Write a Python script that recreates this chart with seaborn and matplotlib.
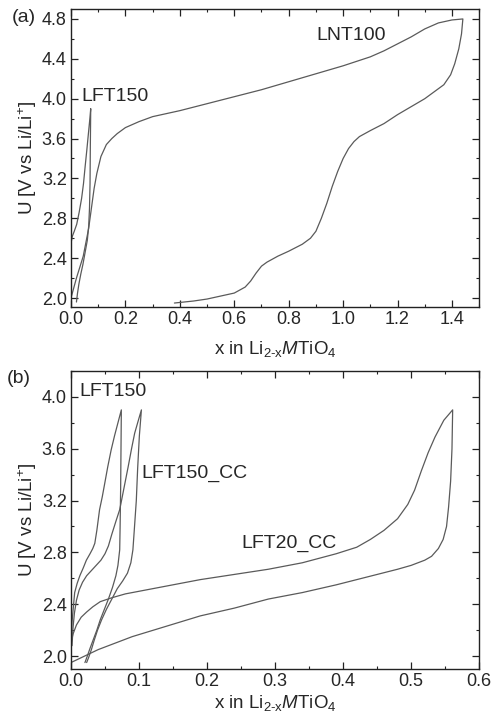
import numpy as np
import pandas as pd
import matplotlib
matplotlib.use("Agg")
import matplotlib.pyplot as plt
from matplotlib.ticker import MultipleLocator, FormatStrFormatter
import seaborn as sns

# panel (a): first cycle, charge then discharge
lnt100_x = [0.0, 0.02, 0.045, 0.065, 0.076, 0.085, 0.095, 0.11, 0.13, 0.15, 0.17, 0.2, 0.25, 0.3,
            0.35, 0.4, 0.5, 0.6, 0.7, 0.8, 0.9, 1.0, 1.1, 1.15, 1.2, 1.25, 1.3, 1.35, 1.4, 1.44,
            1.435, 1.425, 1.41, 1.395, 1.37, 1.3, 1.25, 1.2, 1.15, 1.1, 1.06, 1.04, 1.02, 1.0,
            0.98, 0.96, 0.94, 0.92, 0.9, 0.88, 0.85, 0.8, 0.76, 0.72, 0.7, 0.68, 0.66, 0.64,
            0.62, 0.6, 0.55, 0.5, 0.45, 0.38]
lnt100_u = [2.0, 2.2, 2.42, 2.7, 2.92, 3.1, 3.25, 3.42, 3.54, 3.6, 3.65, 3.71, 3.77, 3.82,
            3.85, 3.88, 3.95, 4.02, 4.09, 4.17, 4.25, 4.33, 4.42, 4.48, 4.55, 4.62, 4.7, 4.76, 4.79, 4.8,
            4.65, 4.5, 4.35, 4.24, 4.14, 4.0, 3.92, 3.84, 3.75, 3.68, 3.62, 3.57, 3.5, 3.4,
            3.27, 3.12, 2.95, 2.8, 2.67, 2.6, 2.54, 2.47, 2.42, 2.36, 2.32, 2.25, 2.17, 2.11,
            2.08, 2.05, 2.02, 1.99, 1.97, 1.95]

lft150a_x = [0.0, 0.0, 0.005, 0.012, 0.021, 0.03, 0.039, 0.046, 0.052, 0.058, 0.064, 0.069, 0.0725,
             0.071, 0.07, 0.068, 0.065, 0.06, 0.052, 0.044, 0.036, 0.029, 0.024, 0.02]
lft150a_u = [2.0, 2.55, 2.62, 2.67, 2.74, 2.86, 3.0, 3.15, 3.32, 3.48, 3.65, 3.79, 3.9,
             3.5, 3.15, 2.9, 2.72, 2.58, 2.46, 2.34, 2.24, 2.14, 2.05, 1.96]

# panel (b)
lft150b_x = [0.0, 0.0005, 0.0015, 0.0035, 0.0054, 0.009, 0.013, 0.018, 0.0226, 0.028, 0.032, 0.035,
             0.038, 0.042, 0.046, 0.0495, 0.054, 0.059, 0.064, 0.069, 0.074,
             0.0735, 0.073, 0.0722, 0.0716, 0.069, 0.066, 0.061, 0.055, 0.049, 0.043, 0.038,
             0.033, 0.028, 0.024, 0.0205]
lft150b_u = [2.05, 2.15, 2.26, 2.38, 2.49, 2.56, 2.62, 2.68, 2.74, 2.79, 2.83, 2.87,
             2.97, 3.13, 3.23, 3.33, 3.46, 3.59, 3.7, 3.8, 3.9,
             3.6, 3.3, 3.0, 2.82, 2.7, 2.62, 2.53, 2.44, 2.36, 2.28, 2.2,
             2.13, 2.06, 2.0, 1.95]

lft150cc_x = [0.0015, 0.003, 0.005, 0.008, 0.012, 0.017, 0.023, 0.03, 0.037, 0.044, 0.05, 0.055,
              0.06, 0.066, 0.0716, 0.0765, 0.084, 0.089, 0.0936, 0.0985, 0.1035,
              0.1005, 0.098, 0.096, 0.093, 0.091, 0.088, 0.083, 0.076, 0.068, 0.06, 0.052,
              0.045, 0.039, 0.034, 0.03, 0.026, 0.023]
lft150cc_u = [2.08, 2.22, 2.33, 2.43, 2.51, 2.57, 2.62, 2.66, 2.7, 2.74, 2.79, 2.85,
              2.94, 3.04, 3.13, 3.26, 3.46, 3.6, 3.72, 3.81, 3.9,
              3.7, 3.45, 3.2, 2.97, 2.82, 2.72, 2.64, 2.58, 2.52, 2.44, 2.36,
              2.28, 2.2, 2.12, 2.05, 1.99, 1.95]

lft20cc_x = [0.0, 0.003, 0.008, 0.015, 0.023, 0.032, 0.043, 0.06, 0.08, 0.1, 0.14, 0.19, 0.24,
             0.29, 0.34, 0.39, 0.42, 0.44, 0.46, 0.48, 0.495, 0.505, 0.515, 0.525, 0.535, 0.548, 0.561,
             0.56, 0.558, 0.555, 0.552, 0.547, 0.54, 0.53, 0.52, 0.5, 0.48, 0.45, 0.42, 0.39,
             0.34, 0.29, 0.24, 0.19, 0.14, 0.09, 0.06, 0.04, 0.02, 0.008, 0.0]
lft20cc_u = [2.1, 2.17, 2.24, 2.3, 2.34, 2.38, 2.42, 2.45, 2.48, 2.5, 2.54, 2.59, 2.63,
             2.67, 2.72, 2.79, 2.84, 2.9, 2.97, 3.06, 3.17, 3.28, 3.43, 3.57, 3.69, 3.82, 3.9,
             3.6, 3.35, 3.15, 3.0, 2.9, 2.83, 2.77, 2.74, 2.7, 2.67, 2.63, 2.59, 2.55,
             2.49, 2.44, 2.37, 2.31, 2.23, 2.15, 2.09, 2.05, 2.0, 1.97, 1.95]

LINE = "#5a5a5a"
XLABEL = r"x in Li$_{\mathrm{2\text{-}x}}$$\mathit{M}$TiO$_\mathrm{4}$"
YLABEL = r"U [V vs Li/Li$^{+}$]"

sns.set_style("ticks")
plt.rcParams["font.family"] = ["Liberation Sans", "DejaVu Sans"]
plt.rcParams["mathtext.fontset"] = "custom"
plt.rcParams["mathtext.rm"] = "Liberation Sans"
plt.rcParams["mathtext.it"] = "Liberation Sans:italic"

fig = plt.figure(figsize=(4.93, 7.19), dpi=100)
ax1 = fig.add_axes([0.144, 0.573, 0.828, 0.4145])
ax2 = fig.add_axes([0.144, 0.0695, 0.828, 0.4145])


def draw(ax, xs, us):
    df = pd.DataFrame({"x": xs, "U": us})
    sns.lineplot(data=df, x="x", y="U", ax=ax, sort=False, estimator=None,
                 color=LINE, lw=0.9)


draw(ax1, lnt100_x, lnt100_u)
draw(ax1, lft150a_x, lft150a_u)
draw(ax2, lft150b_x, lft150b_u)
draw(ax2, lft150cc_x, lft150cc_u)
draw(ax2, lft20cc_x, lft20cc_u)

ax1.set_xlim(0, 1.5)
ax1.set_ylim(1.91, 4.9)
ax1.xaxis.set_major_locator(MultipleLocator(0.2))
ax1.xaxis.set_minor_locator(MultipleLocator(0.1))
ax2.set_xlim(0, 0.6)
ax2.set_ylim(1.9, 4.2)
ax2.xaxis.set_major_locator(MultipleLocator(0.1))
ax2.xaxis.set_minor_locator(MultipleLocator(0.05))

for ax in (ax1, ax2):
    ax.yaxis.set_major_locator(MultipleLocator(0.4))
    ax.yaxis.set_minor_locator(MultipleLocator(0.2))
    ax.xaxis.set_major_formatter(FormatStrFormatter("%.1f"))
    ax.yaxis.set_major_formatter(FormatStrFormatter("%.1f"))
    ax.tick_params(which="both", direction="in", top=True, right=True, labelsize=13,
                   pad=3, color="#222222")
    ax.tick_params(which="major", length=5, width=0.9)
    ax.tick_params(which="minor", length=2.5, width=0.8)
    for s in ax.spines.values():
        s.set_linewidth(1.0)
        s.set_color("#222222")
    ax.set_ylabel(YLABEL, fontsize=13.5, labelpad=2)

ax1.set_xlabel(XLABEL, fontsize=13.5, labelpad=8)
ax2.set_xlabel(XLABEL, fontsize=13.5, labelpad=2)

ax1.text(0.9, 4.63, "LNT100", fontsize=14, va="center")
ax1.text(0.039, 4.02, "LFT150", fontsize=14, va="center")
ax2.text(0.013, 4.04, "LFT150", fontsize=14, va="center")
ax2.text(0.104, 3.41, "LFT150_CC", fontsize=14, va="center")
ax2.text(0.251, 2.87, "LFT20_CC", fontsize=14, va="center")

fig.text(0.024, 0.987, "(a)", fontsize=14, va="top")
fig.text(0.014, 0.486, "(b)", fontsize=14, va="top")

fig.savefig("out.png", dpi=100)
